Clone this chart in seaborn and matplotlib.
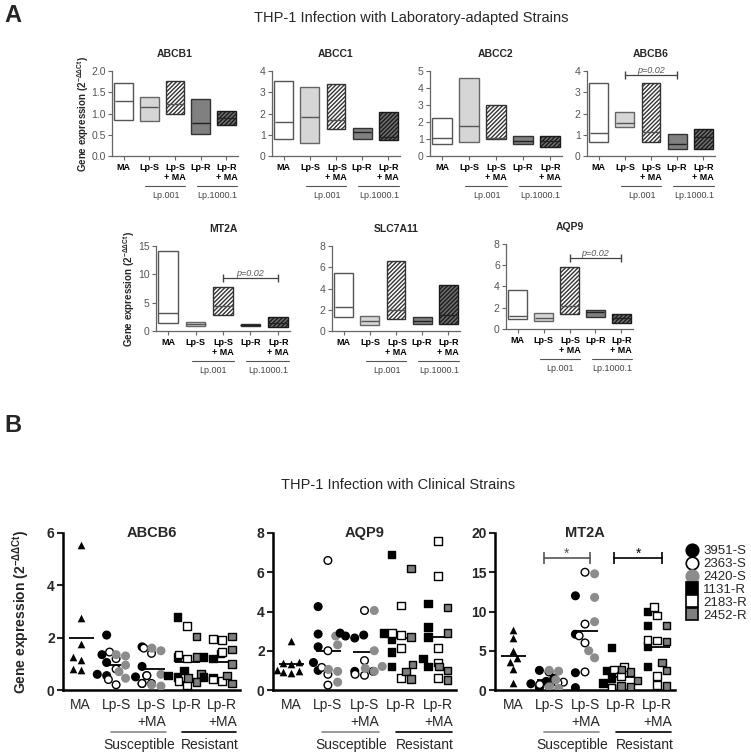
import numpy as np
import pandas as pd
import seaborn as sns
import matplotlib.pyplot as plt
import matplotlib.colors as mcolors
import matplotlib.transforms as mtrans
from matplotlib.lines import Line2D

###############################
######### data ################
###############################
groups = ['MA', 'Lp-S', 'Lp-S+MA', 'Lp-R', 'Lp-R+MA']
labels_a = ['MA', 'Lp-S', 'Lp-S\n+ MA', 'Lp-R', 'Lp-R\n+ MA']
labels_b = ['MA', 'Lp-S', 'Lp-S\n+MA', 'Lp-R', 'Lp-R\n+MA']

## panel A : floating bars (low, high, middle line)
abcb1_low = [0.85, 0.82, 1.00, 0.52, 0.72]
abcb1_high = [1.72, 1.38, 1.77, 1.33, 1.06]
abcb1_mid = [1.30, 1.15, 1.22, 0.78, 0.90]

abcc1_low = [0.78, 0.62, 1.25, 0.78, 0.75]
abcc1_high = [3.55, 3.25, 3.40, 1.30, 2.05]
abcc1_mid = [1.62, 1.85, 1.70, 1.15, 0.90]

abcc2_low = [0.72, 0.85, 1.00, 0.68, 0.55]
abcc2_high = [2.22, 4.60, 2.98, 1.18, 1.20]
abcc2_mid = [1.05, 1.75, 1.05, 0.90, 0.90]

abcb6_low = [0.65, 1.35, 0.68, 0.35, 0.32]
abcb6_high = [3.45, 2.05, 3.45, 1.05, 1.28]
abcb6_mid = [1.10, 1.55, 1.15, 0.55, 0.88]

mt2a_low = [1.5, 0.9, 2.9, 0.8, 0.7]
mt2a_high = [14.1, 1.6, 7.8, 1.3, 2.5]
mt2a_mid = [3.2, 1.3, 4.5, 1.05, 1.5]

slc7a11_low = [1.3, 0.6, 1.1, 0.65, 0.7]
slc7a11_high = [5.5, 1.4, 6.6, 1.3, 4.3]
slc7a11_mid = [2.25, 0.95, 2.0, 0.95, 1.5]

aqp9_low = [0.95, 0.75, 1.45, 1.1, 0.6]
aqp9_high = [3.7, 1.55, 5.8, 1.75, 1.45]
aqp9_mid = [1.2, 1.0, 2.2, 1.6, 1.0]

## panel B : clinical strains, one value per dot
s_strains = ['3951-S', '2363-S', '2420-S']
r_strains = ['1131-R', '2183-R', '2452-R']

b_abcb6_ma = [5.55, 2.75, 1.75, 1.25, 1.15, 0.8, 0.75]
b_abcb6_lps = {'3951-S': [2.1, 1.35, 1.05, 0.55, 0.6],
               '2363-S': [1.45, 1.2, 0.8, 0.4, 0.2],
               '2420-S': [1.35, 1.3, 0.95, 0.7, 0.45]}
b_abcb6_lpsma = {'3951-S': [1.65, 0.9, 0.55, 0.5, 0.25],
                 '2363-S': [1.6, 1.4, 0.55, 0.25, 0.25],
                 '2420-S': [1.5, 1.6, 0.6, 0.15, 0.2]}
b_abcb6_lpr = {'1131-R': [2.8, 1.25, 0.75, 0.55, 0.5],
               '2183-R': [2.45, 1.35, 1.2, 0.35, 0.2],
               '2452-R': [2.05, 1.25, 0.6, 0.3, 0.45]}
b_abcb6_lprma = {'1131-R': [1.4, 1.25, 1.2, 0.5, 0.45],
                 '2183-R': [1.95, 1.9, 1.45, 0.4, 0.35],
                 '2452-R': [2.05, 1.55, 1.0, 0.55, 0.25]}

b_aqp9_ma = [2.5, 1.45, 1.4, 1.35, 1.0, 0.95, 0.9, 0.85]
b_aqp9_lps = {'3951-S': [4.25, 2.85, 2.2, 1.4, 1.0],
              '2363-S': [6.6, 2.0, 1.15, 0.8, 0.25],
              '2420-S': [2.75, 2.3, 1.05, 0.95, 0.4]}
b_aqp9_lpsma = {'3951-S': [2.9, 2.75, 2.65, 2.8, 0.95],
                '2363-S': [4.05, 1.5, 0.75, 0.8, 0.95],
                '2420-S': [4.05, 2.0, 1.2, 1.1, 0.95]}
b_aqp9_lpr = {'1131-R': [6.9, 2.9, 2.6, 1.95, 1.2],
              '2183-R': [4.3, 2.9, 2.15, 0.6, 2.8],
              '2452-R': [6.2, 2.7, 1.3, 0.95, 0.55]}
b_aqp9_lprma = {'1131-R': [4.4, 3.2, 2.7, 1.6, 1.2],
                '2183-R': [7.6, 5.8, 2.15, 1.4, 0.6],
                '2452-R': [4.2, 2.9, 1.2, 1.0, 0.5]}

b_mt2a_ma = [7.7, 6.6, 5.0, 4.1, 3.6, 2.7, 0.9]
b_mt2a_lps = {'3951-S': [2.5, 1.5, 1.1, 0.8, 0.3],
              '2363-S': [2.3, 1.0, 0.9, 0.7, 0.5],
              '2420-S': [2.5, 2.4, 1.3, 0.4, 0.2]}
b_mt2a_lpsma = {'3951-S': [12.0, 7.1, 2.2, 0.3],
                '2363-S': [15.0, 8.4, 6.9, 6.0, 2.3],
                '2420-S': [14.8, 11.8, 8.7, 5.0, 4.1]}
b_mt2a_lpr = {'1131-R': [5.4, 2.5, 1.5, 0.9, 0.3],
              '2183-R': [2.9, 2.6, 1.8, 0.3, 0.2],
              '2452-R': [2.6, 2.3, 1.2, 0.5, 0.4]}
b_mt2a_lprma = {'1131-R': [10.0, 8.2, 5.6, 3.0],
                '2183-R': [10.6, 9.5, 6.4, 6.3, 1.8, 0.6],
                '2452-R': [8.2, 6.2, 3.5, 2.5, 0.5]}


###############################
######### styles ##############
###############################
sns.set_style('ticks')
plt.rcParams['font.family'] = ['Liberation Sans', 'DejaVu Sans']
plt.rcParams['mathtext.fontset'] = 'custom'
plt.rcParams['mathtext.rm'] = 'Liberation Sans'
plt.rcParams['mathtext.it'] = 'Liberation Sans:italic'
plt.rcParams['mathtext.bf'] = 'Liberation Sans:bold'
plt.rcParams['hatch.linewidth'] = 1.0

bar_face = {'MA': 'white', 'Lp-S': '#d6d6d6', 'Lp-S+MA': 'white',
            'Lp-R': '#808080', 'Lp-R+MA': '#707070'}
bar_edge = {'MA': '#555555', 'Lp-S': '#666666', 'Lp-S+MA': '#333333',
            'Lp-R': '#333333', 'Lp-R+MA': '#1a1a1a'}
bar_hatch = {'MA': '', 'Lp-S': '', 'Lp-S+MA': '////////',
             'Lp-R': '', 'Lp-R+MA': '////////'}
mid_color = {'MA': '#555555', 'Lp-S': '#555555', 'Lp-S+MA': '#555555',
             'Lp-R': '#222222', 'Lp-R+MA': '#222222'}

strain_face = {'3951-S': 'black', '2363-S': 'white', '2420-S': '#8c8c8c',
               '1131-R': 'black', '2183-R': 'white', '2452-R': '#7f7f7f'}

W, H = 751, 755
fig = plt.figure(figsize=(W / 100, H / 100), dpi=100)

ylab = r'Gene expression (2$^{\mathbf{-ΔΔCt}}$)'


##############################
######## panel A #############
##############################
def range_panel(rect, title, low, high, mid, ymax, step, fmt,
                ylabel_x=None, pval=None):
    ax = fig.add_axes(rect)
    d = pd.DataFrame({'group': groups,
                      'span': np.array(high) - np.array(low),
                      'mid': mid})
    sns.barplot(data=d, x='group', y='span', hue='group', order=groups,
                hue_order=groups, palette=bar_face, saturation=1, width=0.72,
                linewidth=1, legend=False, ax=ax)
    for patch, g, lo in zip(ax.patches, groups, low):
        patch.set_y(lo)
        patch.set_edgecolor(bar_edge[g])
        patch.set_hatch(bar_hatch[g])

    bar_pt = 0.72 * rect[2] * W / 4.9 * 0.72
    sns.pointplot(data=d, x='group', y='mid', hue='group', order=groups,
                  hue_order=groups, palette=mid_color, markers='_',
                  linestyles='none', markersize=bar_pt, markeredgewidth=1,
                  errorbar=None, legend=False, ax=ax)

    ax.set_xlim(-0.45, 4.45)
    ax.set_ylim(0, ymax)
    ax.set_yticks(np.arange(0, ymax + step / 2, step))
    ax.yaxis.set_major_formatter(fmt)
    ax.set_xticks(range(5))
    ax.set_xticklabels(labels_a, fontsize=6.5, fontweight='bold',
                       multialignment='right')
    ax.set_xlabel('')
    ax.set_ylabel('')
    sns.despine(ax=ax)
    for s in ['left', 'bottom']:
        ax.spines[s].set_color('#666666')
        ax.spines[s].set_linewidth(0.9)
    ax.tick_params(colors='#666666', labelcolor='#555555', length=3,
                   width=0.8, labelsize=7.5, pad=1.5)
    ax.tick_params(axis='x', labelcolor='black', labelsize=6.5, pad=2)
    ax.set_title(title, fontsize=7.5, fontweight='bold', pad=10)

    if ylabel_x is not None:
        ax.set_ylabel(ylab, fontsize=7, fontweight='bold')
        ax.yaxis.set_label_coords(ylabel_x, 0.5)

    trans = mtrans.blended_transform_factory(ax.transData, ax.transAxes)
    ax.plot([0.85, 2.4], [-0.35, -0.35], transform=trans, color='#555555',
            lw=0.8, clip_on=False)
    ax.plot([2.85, 4.4], [-0.35, -0.35], transform=trans, color='#555555',
            lw=0.8, clip_on=False)
    ax.text(1.65, -0.47, 'Lp.001', transform=trans, ha='center', va='center',
            fontsize=6.5, color='#444444')
    ax.text(3.65, -0.47, 'Lp.1000.1', transform=trans, ha='center',
            va='center', fontsize=6.5, color='#444444')

    if pval is not None:
        x0, x1, y = pval
        ax.plot([x0, x1], [y, y], color='#444444', lw=0.9, marker='|',
                markersize=6, mew=1)
        ax.text((x0 + x1) / 2, y, 'p=0.02', fontsize=6.5, style='italic',
                color='#555555', ha='center', va='bottom')
    return ax


def px_rect(x0, y_top, x1, y_bot):
    return [x0 / W, 1 - y_bot / H, (x1 - x0) / W, (y_bot - y_top) / H]


range_panel(px_rect(112, 71, 238, 156), 'ABCB1', abcb1_low, abcb1_high,
            abcb1_mid, 2, 0.5, '{x:.1f}', ylabel_x=-0.17)
range_panel(px_rect(272, 71, 400, 156), 'ABCC1', abcc1_low, abcc1_high,
            abcc1_mid, 4, 1, '{x:.0f}')
range_panel(px_rect(430, 71, 562, 156), 'ABCC2', abcc2_low, abcc2_high,
            abcc2_mid, 5, 1, '{x:.0f}')
range_panel(px_rect(587, 71, 715, 156), 'ABCB6', abcb6_low, abcb6_high,
            abcb6_mid, 4, 1, '{x:.0f}', pval=(1, 3, 3.8))

range_panel(px_rect(156, 246, 290, 331), 'MT2A', mt2a_low, mt2a_high,
            mt2a_mid, 15, 5, '{x:.0f}', ylabel_x=-0.145, pval=(2, 4, 9.4))
range_panel(px_rect(332, 246, 460, 331), 'SLC7A11', slc7a11_low,
            slc7a11_high, slc7a11_mid, 8, 2, '{x:.0f}')
range_panel(px_rect(506, 244, 633, 329), 'AQP9', aqp9_low, aqp9_high,
            aqp9_mid, 8, 2, '{x:.0f}', pval=(2, 4, 6.7))


##############################
######## panel B #############
##############################
def dot_panel(rect, title, ma, lps, lpsma, lpr, lprma, ymax, step,
              ylabel=False, stars=False):
    ax = fig.add_axes(rect)
    rows = [('MA', 'MA', v) for v in ma]
    for grp, dd in [('Lp-S', lps), ('Lp-S+MA', lpsma),
                    ('Lp-R', lpr), ('Lp-R+MA', lprma)]:
        for strain, vals in dd.items():
            rows += [(grp, strain, v) for v in vals]
    df = pd.DataFrame(rows, columns=['group', 'strain', 'value'])

    sns.swarmplot(data=df[df['strain'] == 'MA'], x='group', y='value',
                  order=groups, color='black', marker='^', size=5.5, ax=ax)

    n0 = len(ax.collections)
    sns.swarmplot(data=df[df['strain'].isin(s_strains)], x='group', y='value',
                  hue='strain', hue_order=s_strains, order=groups,
                  palette=strain_face, marker='o', size=5.5, linewidth=1,
                  edgecolor='black', dodge=True, legend=False, ax=ax)
    grey = mcolors.to_rgba(strain_face['2420-S'])
    for coll in ax.collections[n0:]:
        fc = coll.get_facecolors()
        ec = np.tile(mcolors.to_rgba('black'), (len(fc), 1))
        g = np.all(np.isclose(fc, grey, atol=0.01), axis=1)
        ec[g] = fc[g]
        coll.set_edgecolors(ec)

    sns.swarmplot(data=df[df['strain'].isin(r_strains)], x='group', y='value',
                  hue='strain', hue_order=r_strains, order=groups,
                  palette=strain_face, marker='s', size=5.5, linewidth=1,
                  edgecolor='black', dodge=True, legend=False, ax=ax)

    sns.pointplot(data=df, x='group', y='value', order=groups,
                  estimator='mean', errorbar=None, color='black',
                  markers='_', linestyles='none', markersize=18,
                  markeredgewidth=1.3, ax=ax)

    ax.set_xlim(-0.5, 4.5)
    ax.set_ylim(0, ymax)
    ax.set_yticks(np.arange(0, ymax + step / 2, step))
    ax.set_xticks(range(5))
    ax.set_xticklabels(labels_b, fontsize=10, multialignment='right')
    for t in ax.get_yticklabels():
        t.set_fontweight('bold')
    ax.set_xlabel('')
    ax.set_ylabel('')
    sns.despine(ax=ax)
    for s in ['left', 'bottom']:
        ax.spines[s].set_color('black')
        ax.spines[s].set_linewidth(1.8)
    ax.tick_params(axis='y', length=4, width=1.5, labelsize=10, pad=2)
    ax.tick_params(axis='x', length=0, labelsize=10, pad=6)
    ax.text(0.5, 1.0, title, transform=ax.transAxes, ha='center',
            va='center', fontsize=10.5, fontweight='bold')

    if ylabel:
        ax.set_ylabel(ylab, fontsize=10, fontweight='bold')
        ax.yaxis.set_label_coords(-0.175, 0.5)

    trans = mtrans.blended_transform_factory(ax.transData, ax.transAxes)
    ax.plot([0.85, 2.4], [-0.267, -0.267], transform=trans, color='#888888',
            lw=1.2, clip_on=False)
    ax.plot([2.85, 4.4], [-0.267, -0.267], transform=trans, color='black',
            lw=1.2, clip_on=False)
    ax.text(1.65, -0.35, 'Susceptible', transform=trans, ha='center',
            va='center', fontsize=10)
    ax.text(3.65, -0.35, 'Resistant', transform=trans, ha='center',
            va='center', fontsize=10)

    if stars:
        for (x0, x1), col in [((0.85, 2.15), '#555555'), ((2.8, 4.15), 'black')]:
            ax.plot([x0, x1], [16.8, 16.8], color=col, lw=1.2, marker='|',
                    markersize=8, mew=1.2)
            ax.text((x0 + x1) / 2, 16.9, '*', ha='center', va='baseline',
                    fontsize=10, color=col)
    return ax


dot_panel(px_rect(63, 533, 240, 690), 'ABCB6', b_abcb6_ma, b_abcb6_lps,
          b_abcb6_lpsma, b_abcb6_lpr, b_abcb6_lprma, 6, 2, ylabel=True)
dot_panel(px_rect(273, 533, 456, 690), 'AQP9', b_aqp9_ma, b_aqp9_lps,
          b_aqp9_lpsma, b_aqp9_lpr, b_aqp9_lprma, 8, 2)
dot_panel(px_rect(495, 533, 675, 690), 'MT2A', b_mt2a_ma, b_mt2a_lps,
          b_mt2a_lpsma, b_mt2a_lpr, b_mt2a_lprma, 20, 5, stars=True)

## legend
handles = []
for st in s_strains:
    ec = strain_face[st] if st == '2420-S' else 'black'
    handles.append(Line2D([], [], ls='', marker='o', markersize=9,
                          markerfacecolor=strain_face[st], markeredgecolor=ec,
                          markeredgewidth=1.2))
for st in r_strains:
    handles.append(Line2D([], [], ls='', marker='s', markersize=9,
                          markerfacecolor=strain_face[st],
                          markeredgecolor='black', markeredgewidth=1.2))
fig.legend(handles, s_strains + r_strains, loc='upper left',
           bbox_to_anchor=(0.912, 0.278), frameon=False, fontsize=9.5,
           handlelength=1, handletextpad=0.4, labelspacing=0.05,
           borderaxespad=0, borderpad=0)

## titles
fig.text(0.017, 0.98, 'A', fontsize=17, fontweight='bold', ha='center',
         va='center')
fig.text(0.017, 0.436, 'B', fontsize=17, fontweight='bold', ha='center',
         va='center')
fig.text(0.547, 0.976, 'THP-1 Infection with Laboratory-adapted Strains',
         ha='center', va='center', fontsize=10.5)
fig.text(0.53, 0.358, 'THP-1 Infection with Clinical Strains',
         ha='center', va='center', fontsize=10.5)

fig.savefig('out.png', dpi=100)
